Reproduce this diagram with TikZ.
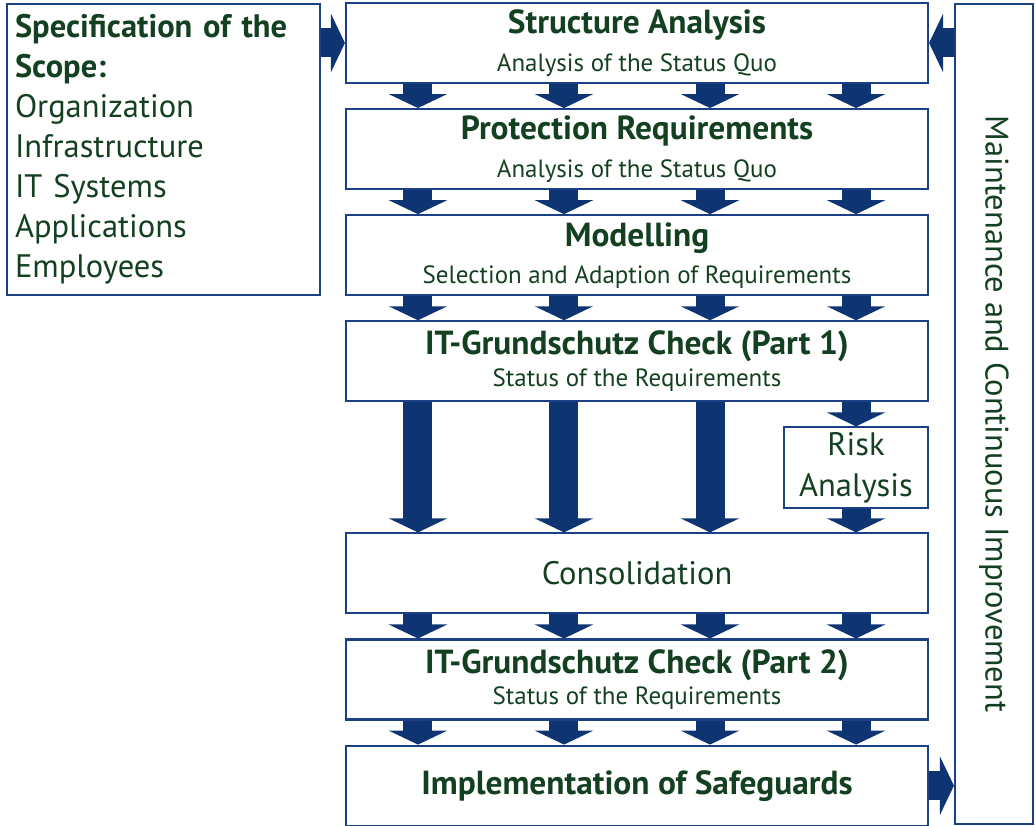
\documentclass[tikz,border=0pt]{standalone}
\usepackage{fontspec}
\setmainfont{PT Sans}
\usepackage{tikz}
\usetikzlibrary{arrows.meta,positioning,calc}

\definecolor{bsiblue}{RGB}{28,64,134}
\definecolor{bsinavy}{RGB}{14,52,114}
\definecolor{bsigreen}{RGB}{20,64,34}

\newcommand{\ttl}[1]{{\fontsize{19}{21}\selectfont\bfseries #1}}
\newcommand{\sbt}[1]{{\fontsize{14.2}{17}\selectfont #1}}

\begin{document}
\begin{tikzpicture}[
    node distance=0.48cm,
    box/.style={draw=bsiblue, line width=1.2pt, minimum width=11.64cm, minimum height=1.6cm, inner sep=2pt, align=center, text=bsigreen, font=\fontsize{14.2}{17}\selectfont},
    side/.style={draw=bsiblue, line width=1.2pt, text=bsigreen, font=\fontsize{18.5}{22.8}\selectfont},
    big/.style={font=\fontsize{18.5}{22}\selectfont},
    fat/.style={-{Triangle[width=1.16cm, length=0.28cm]}, line width=0.58cm, draw=bsinavy},
  ]
  \useasboundingbox (0,0) rectangle (20.72,-16.52);

  % scope
  \node[side, text width=5.94cm, inner sep=0.16cm, minimum height=5.82cm, align=left] (scope) at (3.27,-2.99)
    {\textbf{Specification of the}\\ \textbf{Scope:}\\ Organization\\ Infrastructure\\ IT Systems\\ Applications\\ Employees};

  % main column
  \node[box] (sa) at (12.74,-0.86) {\ttl{Structure Analysis}\\[5pt] \sbt{Analysis of the Status Quo}};
  \node[box, below=of sa] (pr) {\ttl{Protection Requirements}\\[5pt] \sbt{Analysis of the Status Quo}};
  \node[box, below=of pr] (mo) {\ttl{Modelling}\\[4pt] \sbt{Selection and Adaption of Requirements}};
  \node[box, below=of mo] (c1) {\ttl{IT-Grundschutz Check (Part 1)}\\[1pt] \sbt{Status of the Requirements}};
  \node[box, big, minimum width=2.88cm, minimum height=1.62cm, below left=0.48cm and 0cm of c1.south east] (ra) {Risk\\[1pt] Analysis};
  \node[box, big, below=2.6cm of c1] (co) {Consolidation};
  \node[box, below=of co] (c2) {\ttl{IT-Grundschutz Check (Part 2)}\\[1pt] \sbt{Status of the Requirements}};
  \node[box, below=of c2] (im) {\ttl{Implementation of Safeguards}};

  % maintenance
  \node[side, minimum width=1.56cm, minimum height=16.4cm] (mt) at (19.88,-8.28) {};
  \node[text=bsigreen, rotate=-90, big] (mtlbl) at (mt) {Maintenance and Continuous Improvement};

  % arrows
  \foreach \a/\b in {sa/pr, pr/mo, mo/c1, co/c2, c2/im}
    \foreach \f in {0.125,0.375,0.625,0.875}
      \draw[fat] ($(\a.south west)!\f!(\a.south east)$) -- ($(\b.north west)!\f!(\b.north east)$);
  \foreach \f in {0.125,0.375,0.625}
    \draw[fat] ($(c1.south west)!\f!(c1.south east)$) -- ($(co.north west)!\f!(co.north east)$);
  \draw[fat] (ra.north |- c1.south) -- (ra.north);
  \draw[fat] (ra.south) -- (ra.south |- co.north);
  \draw[fat] (sa.west -| scope.east) -- (sa.west);
  \draw[fat] (sa.east -| mt.west) -- (sa.east);
  \draw[fat] (im.east) -- (im.east -| mt.west);
\end{tikzpicture}
\end{document}
